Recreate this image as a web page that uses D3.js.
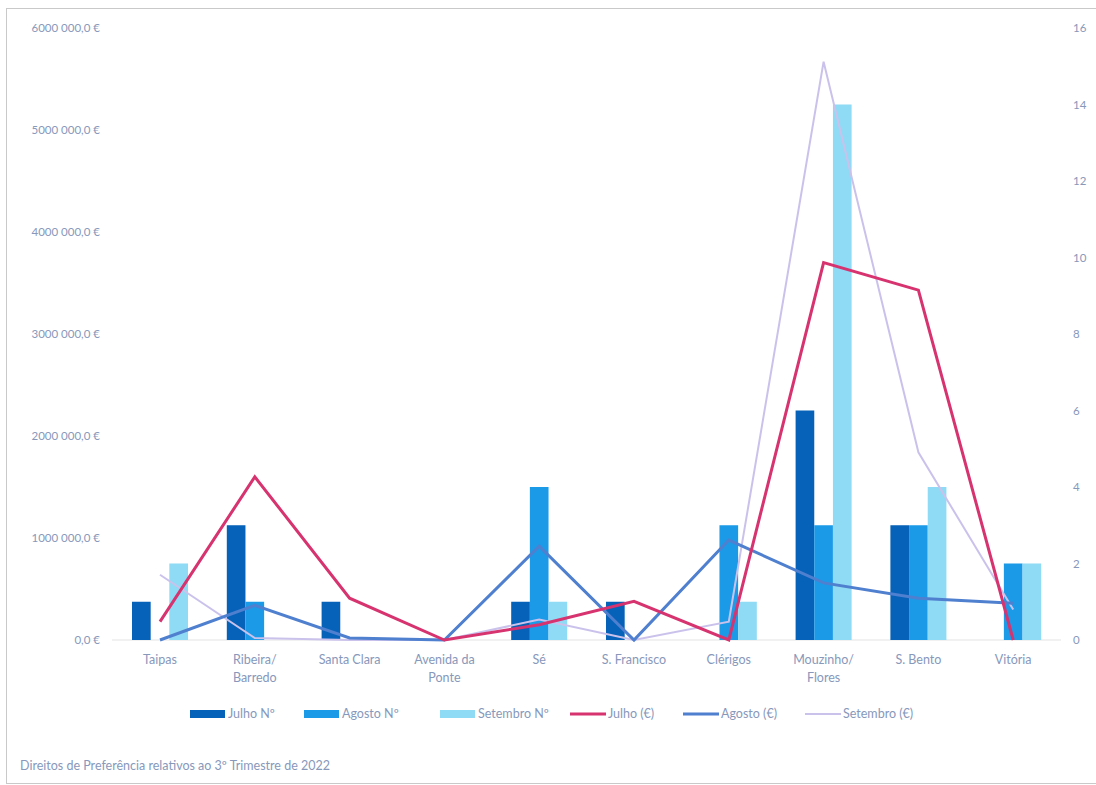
<!DOCTYPE html>
<html>
<head>
<meta charset="utf-8">
<script src="https://cdn.jsdelivr.net/npm/d3@7"></script>
<style>
  html, body { margin: 0; padding: 0; background: #fff; }
  svg { display: block; font-family: Lato, "Open Sans", sans-serif; }
</style>
</head>
<body>
<svg id="chart" width="1096" height="785"></svg>
<script>
// ---- data ----
const categories = ["Taipas", "Ribeira/\nBarredo", "Santa Clara", "Avenida da\nPonte", "Sé", "S. Francisco", "Clérigos", "Mouzinho/\nFlores", "S. Bento", "Vitória"];
const julhoN    = [1, 3, 1, 0, 1, 1, 0, 6, 3, 0];
const agostoN   = [0, 1, 0, 0, 4, 0, 3, 3, 3, 2];
const setembroN = [2, 0, 0, 0, 1, 0, 1, 14, 4, 2];
const julhoEur    = [180000, 1600000, 410000, 0, 150000, 380000, 0, 3700000, 3430000, 0];
const agostoEur   = [0, 340000, 20000, 0, 920000, 0, 980000, 560000, 410000, 360000];
const setembroEur = [640000, 20000, 0, 0, 200000, 0, 180000, 5670000, 1840000, 300000];
const leftTicks  = [0, 1000000, 2000000, 3000000, 4000000, 5000000, 6000000];
const leftTickLabels = ["0,0 €", "1000 000,0 €", "2000 000,0 €", "3000 000,0 €", "4000 000,0 €", "5000 000,0 €", "6000 000,0 €"];
const rightTicks = [0, 2, 4, 6, 8, 10, 12, 14, 16];
const barSeries  = ["Julho Nº", "Agosto Nº", "Setembro Nº"];
const lineSeries = ["Julho (€)", "Agosto (€)", "Setembro (€)"];
const footnote = "Direitos de Preferência relativos ao 3º Trimestre de 2022";

// ---- styles ----
const barColors  = ["#0562b8", "#1b9ae8", "#8fdaf4"];
const lineColors = ["#d6336f", "#4f7fcf", "#cbc2ec"];
const lineWidths = [3, 3, 2];
const textColor = "#8798bb";

const svg = d3.select("#chart");

// frame
svg.append("rect").attr("x", 6.5).attr("y", 8.5).attr("width", 1100).attr("height", 775)
  .attr("fill", "none").attr("stroke", "#c9c9c9").attr("stroke-width", 1);

const x = d3.scaleBand().domain(categories).range([112.6, 1060.6]);
const xInner = d3.scaleBand().domain(barSeries).range([0, 56]);
const yL = d3.scaleLinear().domain([0, 6000000]).range([640, 28]);
const yR = d3.scaleLinear().domain([0, 16]).range([640, 28]);

// baseline
svg.append("line").attr("x1", 112).attr("x2", 1061).attr("y1", yL(0)).attr("y2", yL(0))
  .attr("stroke", "#e3e3e3").attr("stroke-width", 1);

// axes
const axL = d3.axisLeft(yL).tickValues(leftTicks).tickSize(0).tickPadding(0)
  .tickFormat((d, i) => leftTickLabels[i]);
const gL = svg.append("g").attr("transform", "translate(100,0)").call(axL);
gL.select(".domain").remove();
gL.selectAll("text").attr("fill", textColor).style("font-size", "11.5px").style("font-family", "Lato");

const axR = d3.axisRight(yR).tickValues(rightTicks).tickSize(0).tickPadding(0);
const gR = svg.append("g").attr("transform", "translate(1073,0)").call(axR);
gR.select(".domain").remove();
gR.selectAll("text").attr("fill", textColor).style("font-size", "11.5px").style("font-family", "Lato");

// category labels
const gx = svg.append("g");
categories.forEach(c => {
  const lines = c.split("\n");
  const t = gx.append("text").attr("x", x(c) + x.bandwidth() / 2).attr("y", 664)
    .attr("text-anchor", "middle").attr("fill", textColor).style("font-size", "12.5px");
  lines.forEach((l, i) => t.append("tspan").attr("x", x(c) + x.bandwidth() / 2).attr("dy", i === 0 ? 0 : 18).text(l));
});

// bars
const barData = [julhoN, agostoN, setembroN];
barSeries.forEach((s, si) => {
  svg.append("g").selectAll("rect").data(barData[si]).join("rect")
    .attr("x", (d, i) => x(categories[i]) + x.bandwidth() / 2 - 28 + xInner(s))
    .attr("width", xInner.bandwidth())
    .attr("y", d => yR(d))
    .attr("height", d => yR(0) - yR(d))
    .attr("fill", barColors[si]);
});

// lines
const lineData = [julhoEur, agostoEur, setembroEur];
const order = [2, 1, 0];
order.forEach(si => {
  const line = d3.line()
    .x((d, i) => x(categories[i]) + x.bandwidth() / 2)
    .y(d => yL(d));
  svg.append("path").datum(lineData[si]).attr("d", line)
    .attr("fill", "none").attr("stroke", lineColors[si]).attr("stroke-width", lineWidths[si])
    .attr("stroke-linejoin", "miter");
});

// legend
const legendItems = [
  {name: barSeries[0], type: "bar", color: barColors[0], x: 190},
  {name: barSeries[1], type: "bar", color: barColors[1], x: 304},
  {name: barSeries[2], type: "bar", color: barColors[2], x: 440},
  {name: lineSeries[0], type: "line", color: lineColors[0], x: 570, w: 3},
  {name: lineSeries[1], type: "line", color: lineColors[1], x: 683, w: 3},
  {name: lineSeries[2], type: "line", color: lineColors[2], x: 805, w: 2}
];
const lg = svg.append("g");
legendItems.forEach(it => {
  if (it.type === "bar") {
    lg.append("rect").attr("x", it.x).attr("y", 710).attr("width", 35).attr("height", 8).attr("fill", it.color);
  } else {
    lg.append("line").attr("x1", it.x).attr("x2", it.x + 36).attr("y1", 714).attr("y2", 714)
      .attr("stroke", it.color).attr("stroke-width", it.w);
  }
  lg.append("text").attr("x", it.x + 38).attr("y", 718).attr("fill", textColor)
    .style("font-size", "12.5px").text(it.name);
});

// footnote
svg.append("text").attr("x", 20).attr("y", 770).attr("fill", textColor)
  .style("font-size", "12.5px").text(footnote);
</script>
</body>
</html>
